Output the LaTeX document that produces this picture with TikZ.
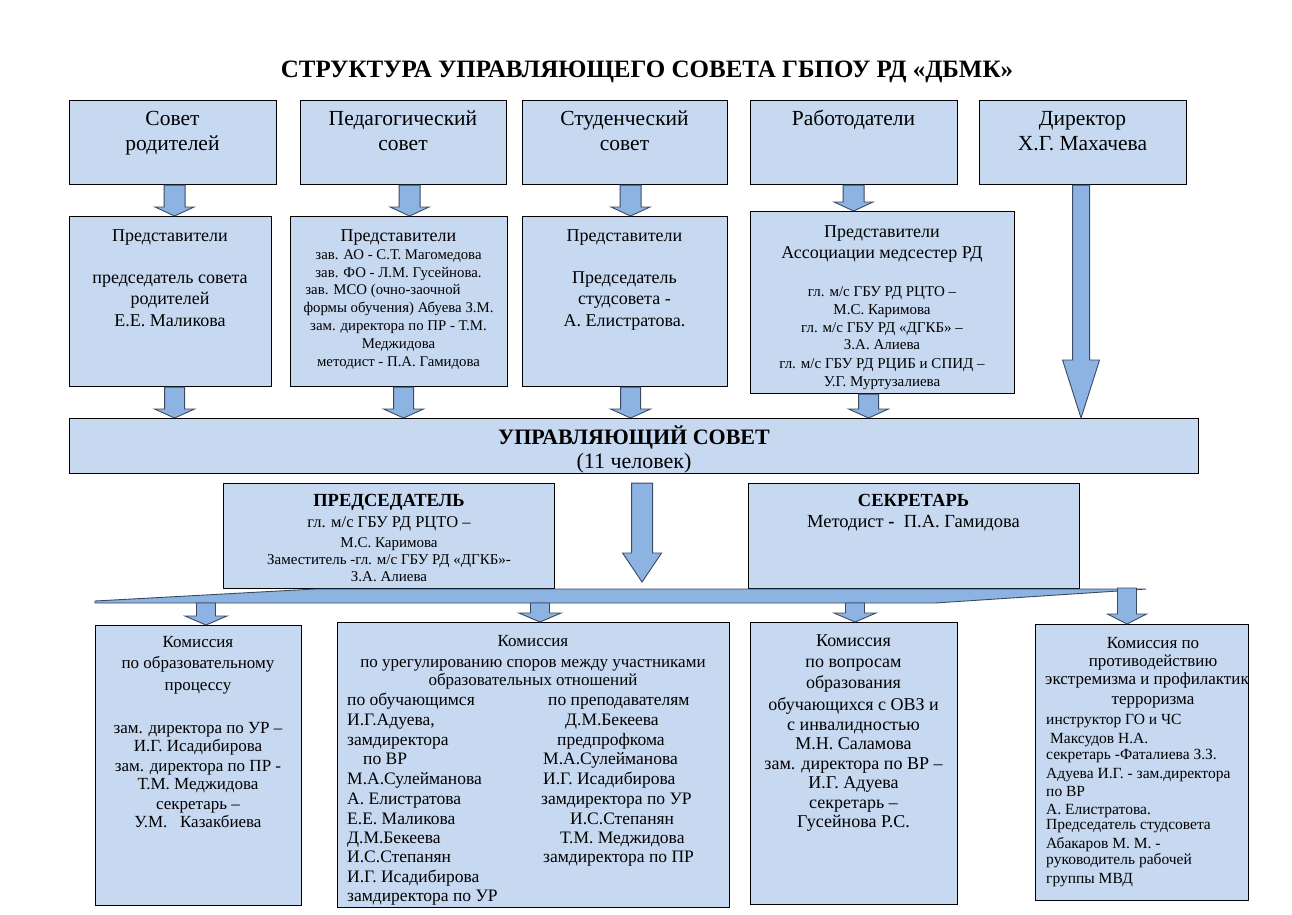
\documentclass[tikz,border=0pt]{standalone}
\usepackage{fontspec}
\setmainfont{Liberation Serif}
\usetikzlibrary{calc}
\definecolor{boxblue}{HTML}{C6D9F1}
\definecolor{arrowblue}{HTML}{8DB3E2}
\definecolor{arrowline}{HTML}{3B4A60}
\tikzset{
  box/.style={draw=black, line width=1.1pt, fill=boxblue, inner sep=0pt, anchor=north west},
  barrow/.style={draw=arrowline, line width=0.9pt, fill=arrowblue, line join=miter},
  tl/.style={anchor=mid, inner sep=0pt, yshift=-4pt},
  tlw/.style={anchor=mid west, inner sep=0pt, yshift=-4pt},
  fA/.style={font=\fontsize{21.5}{25}\selectfont},
  fB/.style={font=\fontsize{18}{21}\selectfont},
  fE/.style={font=\fontsize{14.8}{17}\selectfont},
  fF/.style={font=\fontsize{15}{18}\selectfont},
  fG/.style={font=\fontsize{17}{20}\selectfont},
  fH/.style={font=\fontsize{17.5}{20}\selectfont},
  fI/.style={font=\fontsize{15.5}{18}\selectfont},
  fK/.style={font=\fontsize{18.5}{21}\selectfont\bfseries},
}
\newcommand\blockarrow[5]{%
  \draw[barrow] let \p1=(#1), \p2=(#2) in
   (\x1-#3pt,\y1) -- (\x1+#3pt,\y1) -- (\x1+#3pt,\y2+#5pt) -- (\x1+#4pt,\y2+#5pt)
   -- (\x1,\y2) -- (\x1-#4pt,\y2+#5pt) -- (\x1-#3pt,\y2+#5pt) -- cycle;}
\newcommand\textlines[4]{%
  \foreach \lnY/\lnT [count=\lnI] in {#4} {\node[#3] (#1\lnI) at (#2,\lnY) {\lnT};}}
\begin{document}
\begin{tikzpicture}[x=1pt,y=-1pt]
\useasboundingbox (0,0) rectangle (1292,914);
\fill[white] (0,0) rectangle (1292,914);
% title
\node[tl, font=\fontsize{25}{28}\selectfont\bfseries] (title) at (647,71) {СТРУКТУРА УПРАВЛЯЮЩЕГО СОВЕТА ГБПОУ РД «ДБМК»};
% top row
\node[box, minimum width=207, minimum height=84] (t1) at (69,100) {};
\node[box, minimum width=206, minimum height=84] (t2) at (300,100) {};
\node[box, minimum width=205, minimum height=84] (t3) at (522,100) {};
\node[box, minimum width=207, minimum height=84] (t4) at (750,100) {};
\node[box, minimum width=207, minimum height=84] (t5) at (979,100) {};
\textlines{t1l}{172.5}{tl,fA}{119/Совет,144/родителей}
\textlines{t2l}{403}{tl,fA}{119/Педагогический,144/совет}
\textlines{t3l}{624.5}{tl,fA}{119/Студенческий,144/совет}
\textlines{t4l}{853.5}{tl,fA}{119/Работодатели}
\textlines{t5l}{1082.5}{tl,fA}{119/Директор,144/Х.Г. Махачева}
% second row
\node[box, minimum width=202, minimum height=170] (r1) at (69,216) {};
\node[box, minimum width=217, minimum height=170] (r2) at (290,216) {};
\node[box, minimum width=205, minimum height=170] (r3) at (522,216) {};
\node[box, minimum width=264, minimum height=182] (r4) at (750,211) {};
\textlines{r1l}{170}{tl,fB}{235/Представители,277/председатель совета,298/родителей,320/Е.Е. Маликова}
\textlines{r2h}{398.5}{tl,fB}{235/Представители}
\textlines{r2l}{398.5}{tl,fE}{253/зав. АО - С.Т. Магомедова,271/зав. ФО - Л.М. Гусейнова.,306/формы обучения) Абуева З.М.,324/зам. директора по ПР - Т.М.,342/Меджидова,360/методист - П.А. Гамидова}
\textlines{r2m}{383}{tl,fE}{288/зав. МСО (очно-заочной}
\textlines{r3l}{624.5}{tl,fB}{235/Представители,277/Председатель,298/студсовета -,320/А. Елистратова.}
\textlines{r4h}{882}{tl,fB}{231/Представители,{252/Ассоциации медсестер РД}}
\textlines{r4l}{882}{tl,fF}{{290/{гл. м/с ГБУ РД РЦТО –}},308/М.С. Каримова,{326/{гл. м/с ГБУ РД «ДГКБ» –}},343/З.А. Алиева,{362/{гл. м/с ГБУ РД РЦИБ и СПИД –}},380/У.Г. Муртузалиева}
% arrows top -> second row
\blockarrow{$(t1.south)+(1.5,0)$}{r1.north}{10.5}{19.5}{9}
\blockarrow{$(t2.south)+(6,0)$}{r2.north}{10.5}{19.5}{9}
\blockarrow{$(t3.south)+(5.5,0)$}{r3.north}{10.5}{19.5}{9}
\blockarrow{$(t4.south)+(-0.5,0)$}{r4.north}{10.5}{19.5}{9}
% governing council
\node[box, minimum width=1129, minimum height=55] (us) at (69,418) {};
\node[tl, font=\fontsize{22}{25}\selectfont\bfseries] (usl1) at (634,438) {УПРАВЛЯЮЩИЙ СОВЕТ};
\node[tl, font=\fontsize{22}{25}\selectfont] (usl2) at (634,462) {(11 человек)};
% arrows second row -> council
\blockarrow{$(r1.south)+(4,0)$}{us.north}{10}{20}{9}
\blockarrow{$(r2.south)+(4.5,0)$}{us.north}{10}{20}{9}
\blockarrow{$(r3.south)+(5.5,0)$}{us.north}{10}{20}{9}
\blockarrow{$(r4.south)+(-14,0)$}{us.north}{10}{20}{9}
\blockarrow{$(t5.south)+(-2,0)$}{us.north}{8.5}{18.5}{58}
% chair & secretary
\node[box, minimum width=331, minimum height=105] (pr) at (223,483) {};
\node[box, minimum width=331, minimum height=105] (sc) at (748,483) {};
\node[tl, fK] (prh) at (389,500) {ПРЕДСЕДАТЕЛЬ};
\node[tl, font=\fontsize{16.5}{19}\selectfont] (prl) at (389,521) {гл. м/с ГБУ РД РЦТО –};
\textlines{prm}{389}{tl,fF}{541/М.С. Каримова,{558/{Заместитель -гл. м/с ГБУ РД «ДГКБ»-}},575/З.А. Алиева}
\node[tl, fK] (sch) at (913.5,500) {СЕКРЕТАРЬ};
\node[tl, font=\fontsize{18.5}{21}\selectfont] (scl) at (913.5,521) {Методист \textbf{-}\ \ П.А. Гамидова};
% central arrow
\coordinate (cs) at ($(us.south)+(8,9)$);
\coordinate (ce) at (641.5,582);
\blockarrow{cs}{ce}{10.5}{19.5}{29}
% distribution bar
\coordinate (barL) at (95,601);
\coordinate (barA) at (315,589);
\coordinate (barR) at (1146,589);
\coordinate (barB) at (1118,591);
\coordinate (barC) at (935,603);
\coordinate (barD) at (95,603);
\draw[barrow] (barL) -- (barA) -- (barR) -- (barB) -- (barC) -- (barD) -- cycle;
% bottom boxes
\node[box, minimum width=206, minimum height=280] (b1) at (95,625) {};
\node[box, minimum width=392, minimum height=285] (b2) at (337,622) {};
\node[box, minimum width=207, minimum height=282] (b3) at (750,622) {};
\node[box, minimum width=213, minimum height=276] (b4) at (1035,624) {};
\coordinate (a1) at (206,603);
\coordinate (a2) at (540,603);
\coordinate (a3) at (855,603);
\coordinate (a4) at (1127,588);
\blockarrow{a1}{b1.north}{9.5}{21}{9}
\blockarrow{a2}{b2.north}{9.5}{21}{9}
\blockarrow{a3}{b3.north}{9.5}{21}{9}
\blockarrow{a4}{b4.north}{9.5}{19.5}{10}
% bottom texts
\textlines{b1l}{198}{tl,fG}{641/Комиссия,662/по образовательному,684/процессу,727/зам. директора по УР –,745/И.Г. Исадибирова,765/зам. директора по ПР -,783/Т.М. Меджидова,803/секретарь –,{821/У.М.\ \ \ Казакбиева}}
\textlines{b2h}{533}{tl,fG}{640/Комиссия,661/по урегулированию споров между участниками,679/образовательных отношений}
\textlines{b2a}{347}{tlw,fH}{699/по обучающимся,{719/{И.Г.Адуева,}},739/замдиректора,778/М.А.Сулейманова,798/А. Елистратова,818/Е.Е. Маликова,837/Д.М.Бекеева,856/И.С.Степанян,876/И.Г. Исадибирова,895/замдиректора по УР}
\textlines{b2v}{363}{tlw,fH}{758/по ВР}
\node[tlw,fH] (b2r1) at (548,699) {по преподавателям};
\node[tlw,fH] (b2r2) at (565,719) {Д.М.Бекеева};
\node[tlw,fH] (b2r3) at (557,739) {предпрофкома};
\node[tlw,fH] (b2r4) at (543,758) {М.А.Сулейманова};
\node[tlw,fH] (b2r5) at (543,778) {И.Г. Исадибирова};
\node[tlw,fH] (b2r6) at (541,798) {замдиректора по УР};
\node[tlw,fH] (b2r7) at (570,818) {И.С.Степанян};
\node[tlw,fH] (b2r8) at (560,837) {Т.М. Меджидова};
\node[tlw,fH] (b2r9) at (543,856) {замдиректора по ПР};
\textlines{b3l}{853.5}{tl,font=\fontsize{18}{20}\selectfont}{640/Комиссия,661/по вопросам,682/образования,704/обучающихся с ОВЗ и,724/с инвалидностью,743/М.Н. Саламова,763/зам. директора по ВР –,782/И.Г. Адуева,802/секретарь –,821/Гусейнова Р.С.}
\textlines{b4h}{1153}{tl,fG}{642/Комиссия по,660/противодействию,698/терроризма}
\node[tlw,fG] (b4x) at (1045,678) {экстремизма и профилактик};
\textlines{b4l}{1046}{tlw,fI}{718/инструктор ГО и ЧС,{737/\ Максудов Н.А.},753/секретарь -Фаталиева З.З.,772/Адуева И.Г. - зам.директора,790/по ВР,808/А. Елистратова.,823/Председатель студсовета,842/Абакаров М. М. -,858/руководитель рабочей,877/группы МВД}
\end{tikzpicture}
\end{document}
